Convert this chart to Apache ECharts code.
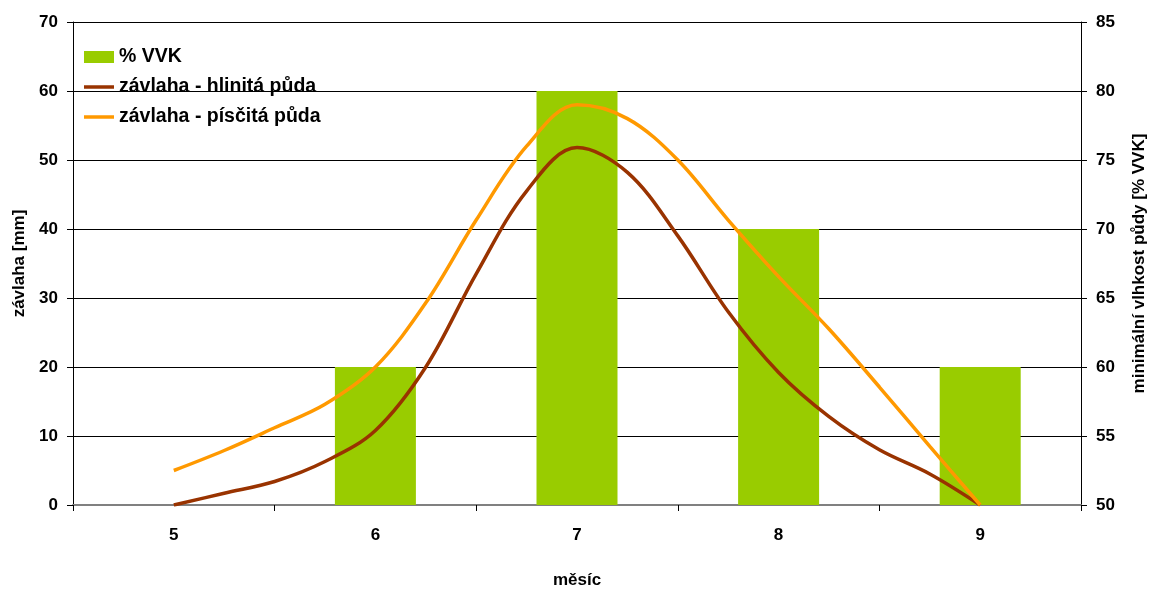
<!DOCTYPE html>
<html>
<head>
<meta charset="utf-8">
<script src="https://cdn.jsdelivr.net/npm/echarts@6/dist/echarts.min.js"></script>
<style>html,body{margin:0;padding:0;background:#fff}#c{width:1149px;height:590px}</style>
</head>
<body>
<div id="c"></div>
<script>
// Data
const months = ['5', '6', '7', '8', '9'];
const vvk = [50, 60, 80, 70, 60];            // % VVK (right axis)
const curveX = [5, 5.25, 5.5, 5.75, 6, 6.25, 6.5, 6.75, 7, 7.25, 7.5, 7.75, 8, 8.25, 8.5, 8.75, 9];
const hlinita = [0, 1.7, 3.4, 6.3, 10.8, 20, 33.5, 45.5, 51.8, 48.2, 39, 28, 19.2, 12.8, 8, 4.5, 0];
const piscita = [5, 7.9, 11.2, 14.6, 20, 29.3, 41.3, 52, 58, 56, 50, 41.3, 33.1, 25.5, 17.1, 8.5, 0];
const leftTicks = {min: 0, max: 70, interval: 10};
const rightTicks = {min: 50, max: 85, interval: 5};

const pair = (xs, ys) => xs.map((x, i) => [x, ys[i]]);
const FONT = '"Liberation Sans", Arial, sans-serif';
const LINE_ICON = 'path://M0,0 L30,0 L30,3.5 L0,3.5 Z';

const chart = echarts.init(document.getElementById('c'), null, {renderer: 'canvas'});
chart.setOption({
  animation: false,
  backgroundColor: '#fff',
  textStyle: {fontFamily: FONT},
  grid: {left: 73, right: 68, top: 22, bottom: 85, containLabel: false, outerBoundsMode: 'none'},
  legend: {
    orient: 'vertical', left: 79, top: 42, itemGap: 10,
    itemWidth: 30, itemHeight: 12,
    textStyle: {fontFamily: FONT, fontSize: 19.5, fontWeight: 'bold', color: '#000'},
    data: [
      {name: '% VVK', icon: 'rect'},
      {name: 'závlaha - hlinitá půda', icon: LINE_ICON},
      {name: 'závlaha - písčitá půda', icon: LINE_ICON}
    ]
  },
  xAxis: [{
    type: 'category', data: months, boundaryGap: true,
    name: 'měsíc', nameLocation: 'middle', nameGap: 67,
    nameTextStyle: {fontFamily: FONT, fontSize: 17, fontWeight: 'bold', color: '#000'},
    axisLine: {lineStyle: {color: '#808080', width: 2}},
    axisTick: {show: true, length: 6, inside: false, lineStyle: {color: '#000'}},
    axisLabel: {fontFamily: FONT, fontSize: 17, fontWeight: 'bold', color: '#000', margin: 22},
    splitLine: {show: false}
  }, {
    type: 'value', min: 4.5, max: 9.5, show: false, splitLine: {show: false}
  }],
  yAxis: [{
    type: 'value', min: leftTicks.min, max: leftTicks.max, interval: leftTicks.interval,
    name: 'závlaha [mm]', nameLocation: 'middle', nameGap: 42, nameRotate: 90,
    nameTextStyle: {fontFamily: FONT, fontSize: 17, fontWeight: 'bold', color: '#000'},
    axisLine: {show: true, lineStyle: {color: '#000', width: 1}},
    axisTick: {show: true, length: 6, lineStyle: {color: '#000'}},
    axisLabel: {fontFamily: FONT, fontSize: 17, fontWeight: 'bold', color: '#000', margin: 15},
    splitLine: {show: true, lineStyle: {color: '#000', width: 1}}
  }, {
    type: 'value', min: rightTicks.min, max: rightTicks.max, interval: rightTicks.interval,
    position: 'right',
    name: 'minimální vlhkost půdy [% VVK]', nameLocation: 'middle', nameGap: 50, nameRotate: 90,
    nameTextStyle: {fontFamily: FONT, fontSize: 17, fontWeight: 'bold', color: '#000'},
    axisLine: {show: true, lineStyle: {color: '#000', width: 1}},
    axisTick: {show: true, length: 6, lineStyle: {color: '#000'}},
    axisLabel: {fontFamily: FONT, fontSize: 17, fontWeight: 'bold', color: '#000', margin: 15},
    splitLine: {show: false}
  }],
  series: [{
    name: '% VVK', type: 'bar', xAxisIndex: 0, yAxisIndex: 1,
    data: vvk, barWidth: 81,
    itemStyle: {color: '#99CC00'}
  }, {
    name: 'závlaha - hlinitá půda', type: 'line', xAxisIndex: 1, yAxisIndex: 0,
    data: pair(curveX, hlinita), smooth: 0.35, symbol: 'none',
    lineStyle: {color: '#993300', width: 3.5}, itemStyle: {color: '#993300'}
  }, {
    name: 'závlaha - písčitá půda', type: 'line', xAxisIndex: 1, yAxisIndex: 0,
    data: pair(curveX, piscita), smooth: 0.35, symbol: 'none',
    lineStyle: {color: '#FF9900', width: 3.5}, itemStyle: {color: '#FF9900'}
  }]
});
</script>
</body>
</html>
